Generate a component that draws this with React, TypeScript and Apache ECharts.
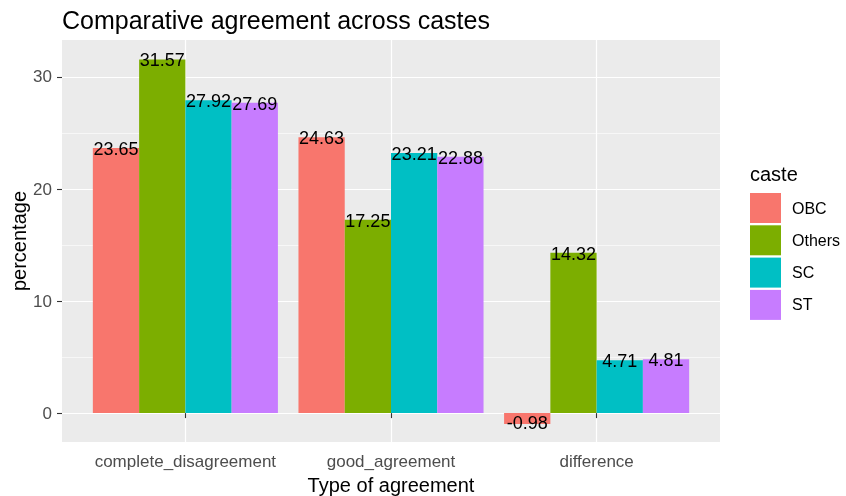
import React, { useEffect, useRef } from "react";
import * as echarts from "echarts";

const categories = ["complete_disagreement", "good_agreement", "difference"];
const castes = ["OBC", "Others", "SC", "ST"];
const obcValues = [23.65, 24.63, -0.98];
const othersValues = [31.57, 17.25, 14.32];
const scValues = [27.92, 23.21, 4.71];
const stValues = [27.69, 22.88, 4.81];
const majorTicks = [0, 10, 20, 30];
const minorTicks = [5, 15, 25];
const yMin = -2.58;
const yMax = 33.3;

const colors = ["#F8766D", "#7CAE00", "#00BFC4", "#C77CFF"];
const FONT = "'Liberation Sans', Arial, sans-serif";

export default function App() {
  const ref = useRef<HTMLDivElement>(null);
  useEffect(() => {
    if (!ref.current) return;
    const chart = echarts.init(ref.current, undefined, { renderer: "svg" });
    const seriesValues = [obcValues, othersValues, scValues, stValues];
    const panelLeft = 62;
    const panelWidth = 658;
    const unit = panelWidth / 3.2;
    const top = 40;
    const height = 402;
    chart.setOption({
      animation: false,
      textStyle: { fontFamily: FONT },
      grid: [
        { left: panelLeft, top, width: panelWidth, height, show: true, backgroundColor: "#EBEBEB", borderWidth: 0, containLabel: false },
        { left: panelLeft + 0.1 * unit, top, width: 3 * unit, height, show: false, containLabel: false },
      ],
      xAxis: [
        { type: "value", gridIndex: 0, show: false, min: 0, max: 1 },
        {
          type: "category",
          gridIndex: 1,
          data: categories,
          axisLine: { show: false },
          axisTick: { show: true, interval: 0, alignWithLabel: true, length: 5, lineStyle: { color: "#333333", width: 1.1 } },
          axisLabel: { interval: 0, color: "#4D4D4D", fontSize: 17, margin: 11, fontFamily: FONT },
          splitLine: { show: true, interval: 0, alignWithLabel: true, lineStyle: { color: "#FFFFFF", width: 1.2 } },
        },
      ],
      yAxis: [
        {
          type: "value",
          gridIndex: 0,
          min: yMin,
          max: yMax,
          axisLine: { show: false },
          axisTick: { show: true, length: 5, customValues: majorTicks, lineStyle: { color: "#333333", width: 1.1 } },
          axisLabel: { color: "#4D4D4D", fontSize: 17, margin: 10, customValues: majorTicks, fontFamily: FONT },
          splitLine: { show: true, lineStyle: { color: "#FFFFFF", width: 1.2 } },
        },
        {
          type: "value",
          gridIndex: 0,
          position: "left",
          min: yMin,
          max: yMax,
          axisLine: { show: false },
          axisTick: { show: false, customValues: minorTicks },
          axisLabel: { show: false, customValues: minorTicks },
          splitLine: { show: true, lineStyle: { color: "#FFFFFF", width: 0.6 } },
        },
        {
          type: "value",
          gridIndex: 1,
          min: yMin,
          max: yMax,
          show: false,
          splitLine: { show: false },
        },
      ],
      legend: {
        data: castes,
        orient: "vertical",
        left: 750,
        top: 193,
        padding: 0,
        itemWidth: 31,
        itemHeight: 30,
        itemGap: 2.3,
        icon: "rect",
        textStyle: { fontSize: 16, color: "#000000", fontFamily: FONT, padding: [0, 0, 0, 6] },
        selectedMode: false,
      },
      graphic: [
        { type: "text", left: 62, top: 7, style: { text: "Comparative agreement across castes", fontSize: 25, fill: "#000000", fontFamily: FONT } },
        { type: "text", x: 750, y: 174, style: { text: "caste", fontSize: 20, fill: "#000000", fontFamily: FONT, verticalAlign: "middle" } },
        { type: "text", x: 391, y: 485, style: { text: "Type of agreement", fontSize: 20, fill: "#000000", fontFamily: FONT, align: "center", verticalAlign: "middle" } },
        { type: "text", x: 19, y: 241, rotation: Math.PI / 2, style: { text: "percentage", fontSize: 20, fill: "#000000", fontFamily: FONT, align: "center", verticalAlign: "middle" } },
      ],
      series: castes.map((name, i) => ({
        name,
        type: "bar",
        xAxisIndex: 1,
        yAxisIndex: 2,
        barGap: "0%",
        barCategoryGap: "10%",
        itemStyle: { color: colors[i] },
        label: {
          show: true,
          position: "top",
          distance: -10,
          fontSize: 18,
          color: "#000000",
          fontFamily: FONT,
          formatter: (p: any) => (p.value as number).toFixed(2),
        },
        data: seriesValues[i].map((v) =>
          v < 0 ? { value: v, label: { position: "bottom", distance: -10 } } : v
        ),
      })),
    });
    return () => chart.dispose();
  }, []);
  return <div ref={ref} style={{ position: "fixed", left: 0, top: 0, width: 846, height: 496 }} />;
}
